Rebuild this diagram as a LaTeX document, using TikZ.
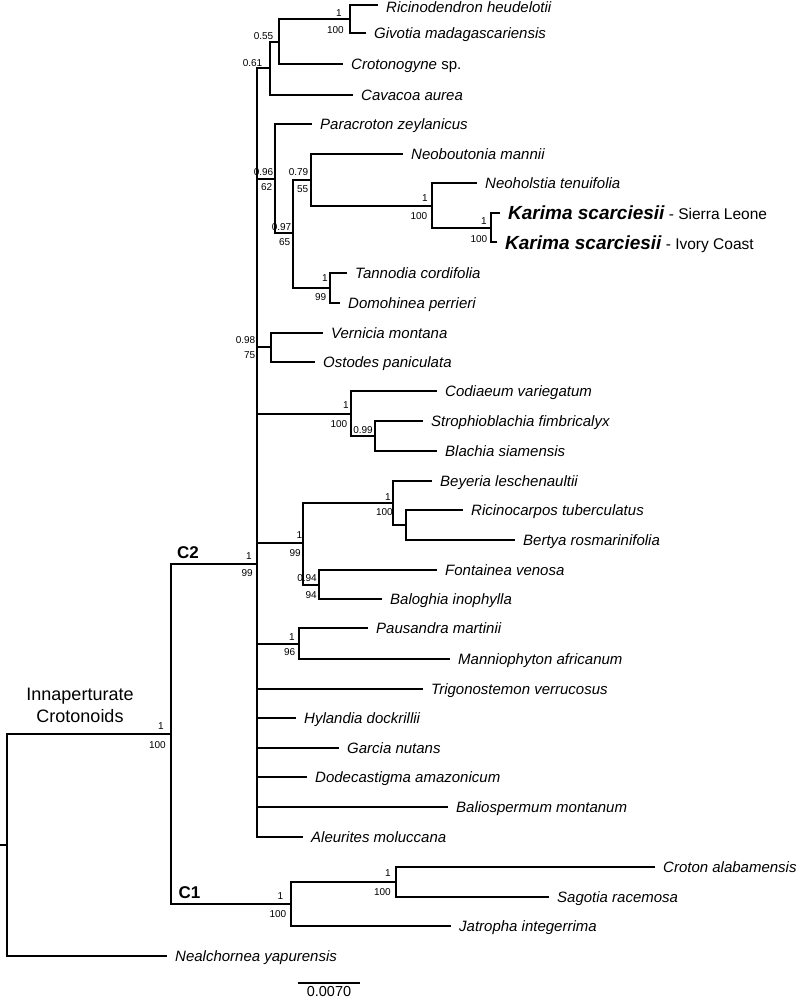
\documentclass[tikz,border=0pt]{standalone}
\usepackage{fontspec}
\setmainfont{Liberation Sans}

\begin{document}
\begin{tikzpicture}[x=1pt,y=-1pt,
	branch/.style={line width=1.4pt},
	taxon/.style={anchor=base west,inner sep=0pt,xshift=8pt,yshift=-5.8pt,font=\fontsize{15}{18}\selectfont\itshape},
	karima/.style={taxon,yshift=-1.2pt},
	support/.style={anchor=east,inner sep=0pt,font=\fontsize{10}{12}\selectfont},
	clade/.style={inner sep=0pt,font=\fontsize{17}{20}\selectfont\bfseries}]
		\newcommand{\leafTaxon}[3]{
			\coordinate (#1) at (#2);
			\node[taxon] (#1-lbl) at (#1) {#3};
		}
		\newcommand{\where}[1]{{\fontsize{15.5}{17}\selectfont\upshape\ - #1}}
		\useasboundingbox (0,0) rectangle (798,1000);

		% internal nodes
		\coordinate (base) at (0,845);
		\coordinate (root) at (7,845);
		\coordinate (inn) at (171,734);
		\coordinate (c2) at (257,564);
		\coordinate (c1) at (291,904);
		\coordinate (n061) at (270,68);
		\coordinate (n055) at (279,42);
		\coordinate (nRG) at (350,19);
		\coordinate (n096) at (275,179);
		\coordinate (n097) at (293,233);
		\coordinate (n079) at (311,180);
		\coordinate (nNK) at (432,206);
		\coordinate (nK) at (491,228);
		\coordinate (nTD) at (330,288);
		\coordinate (nVO) at (271,347);
		\coordinate (nCod) at (351,414);
		\coordinate (nSB) at (375,436);
		\coordinate (n99) at (303,543);
		\coordinate (nBey) at (393,503);
		\coordinate (nRB) at (406,525);
		\coordinate (n094) at (319,585);
		\coordinate (nPau) at (299,644);
		\coordinate (nCS) at (396,882);

		% tips
		\coordinate (ric) at (378,5);
		\node[taxon,yshift=-1.5pt] (ric-lbl) at (ric) {Ricinodendron heudelotii};
		\leafTaxon{giv}{366,33}{Givotia madagascariensis}
		\leafTaxon{crot}{343,64}{Crotonogyne {\upshape sp.}}
		\leafTaxon{cav}{353,95}{Cavacoa aurea}
		\leafTaxon{para}{312,124}{Paracroton zeylanicus}
		\leafTaxon{neob}{403,154}{Neoboutonia mannii}
		\leafTaxon{neoh}{477,183}{Neoholstia tenuifolia}
		\coordinate (karSL) at (500,213);
		\node[karima] (karSL-lbl) at (karSL) {{\fontsize{19}{21}\selectfont\bfseries Karima scarciesii}\where{Sierra Leone}};
		\coordinate (karIC) at (497,242);
		\node[karima] (karIC-lbl) at (karIC) {{\fontsize{19}{21}\selectfont\bfseries Karima scarciesii}\where{Ivory Coast}};
		\leafTaxon{tann}{347,273}{Tannodia cordifolia}
		\leafTaxon{domo}{340,303}{Domohinea perrieri}
		\leafTaxon{vern}{323,333}{Vernicia montana}
		\leafTaxon{ost}{315,362}{Ostodes paniculata}
		\leafTaxon{cod}{437,391}{Codiaeum variegatum}
		\leafTaxon{strop}{423,421}{Strophioblachia fimbricalyx}
		\leafTaxon{blach}{437,451}{Blachia siamensis}
		\leafTaxon{bey}{432,481}{Beyeria leschenaultii}
		\leafTaxon{ricino}{463,510}{Ricinocarpos tuberculatus}
		\leafTaxon{bert}{515,540}{Bertya rosmarinifolia}
		\leafTaxon{font}{437,570}{Fontainea venosa}
		\leafTaxon{balo}{382,599}{Baloghia inophylla}
		\leafTaxon{paus}{368,628}{Pausandra martinii}
		\leafTaxon{mann}{450,659}{Manniophyton africanum}
		\leafTaxon{trig}{423,689}{Trigonostemon verrucosus}
		\leafTaxon{hyl}{296,718}{Hylandia dockrillii}
		\leafTaxon{garc}{339,748}{Garcia nutans}
		\leafTaxon{dode}{307,777}{Dodecastigma amazonicum}
		\leafTaxon{balio}{448,807}{Baliospermum montanum}
		\leafTaxon{aleu}{303,837}{Aleurites moluccana}
		\leafTaxon{croal}{655,867}{Croton alabamensis}
		\leafTaxon{sago}{549,897}{Sagotia racemosa}
		\leafTaxon{jatr}{451,926}{Jatropha integerrima}
		\leafTaxon{neal}{167,956}{Nealchornea yapurensis}

		% branches
		\draw[branch] (base) -- (root);
		\foreach \p/\c in {root/inn, root/neal, inn/c2, inn/c1,
			c2/n061, c2/n096, c2/nVO, c2/nCod, c2/n99, c2/nPau, c2/trig, c2/hyl, c2/garc, c2/dode, c2/balio, c2/aleu,
			n061/n055, n061/cav, n055/nRG, n055/crot, nRG/ric, nRG/giv,
			n096/para, n096/n097, n097/n079, n097/nTD, n079/neob, n079/nNK, nNK/neoh, nNK/nK, nK/karSL, nK/karIC, nTD/tann, nTD/domo,
			nVO/vern, nVO/ost, nCod/cod, nCod/nSB, nSB/strop, nSB/blach,
			n99/nBey, n99/n094, nBey/bey, nBey/nRB, nRB/ricino, nRB/bert, n094/font, n094/balo,
			nPau/paus, nPau/mann, c1/nCS, c1/jatr, nCS/croal, nCS/sago}
			\draw[branch] (\p) |- (\c);

		% posterior probability / bootstrap
		\foreach \x/\y/\lbl [count=\i] in {342/13/1, 344/30/100, 273.5/36/0.55, 262.5/63/0.61,
			273.5/172/0.96, 272.5/187/62, 308.5/172/0.79, 308.5/189/55, 291.5/227/0.97, 290.5/242/65,
			428/198/1, 427.5/216/100, 487/221/1, 487.5/239/100, 328/278/1, 326.5/297/99,
			255.5/340/0.98, 255.5/355/75, 349/405/1, 347.5/424/100, 373/430/0.99,
			391/497/1, 393/512.5/100, 302.5/535/1, 301/553/99, 252/556.5/1, 253/573/99,
			317/578/0.94, 317/595/94, 295/637/1, 295.5/652/96,
			164/726/1, 166/745/100, 283.5/896/1, 286.5/914/100, 391/873/1, 391/892/100}
			\node[support] (bs\i) at (\x,\y) {\lbl};

		% clades
		\node[align=center,inner sep=0pt,font=\fontsize{18}{22}\selectfont] (innLbl) at (80,705) {Innaperturate\\Crotonoids};
		\node[clade] (c2Lbl) at (188,553) {C2};
		\node[clade] (c1Lbl) at (189.5,893) {C1};

		% scale
		\coordinate (barL) at (298,983);
		\coordinate (barR) at (360,983);
		\draw[branch] (barL) -- (barR);
		\node[anchor=north,inner sep=0pt,font=\fontsize{14.5}{16}\selectfont] (barLbl) at (329,986.5) {0.0070};
	\end{tikzpicture}
\end{document}
